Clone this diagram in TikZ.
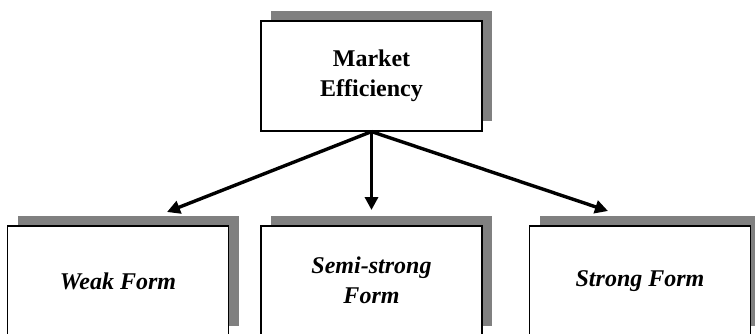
\documentclass[tikz,border=0pt]{standalone}
\usepackage{fontspec}
\setmainfont{Liberation Serif}
\usetikzlibrary{shadows,arrows.meta}
\begin{document}
\begin{tikzpicture}[x=0.5pt,y=-0.5pt,
  box/.style={draw=black, line width=0.6pt, fill=white, minimum width=110.5pt, minimum height=55pt,
    inner sep=0pt, align=center, font=\fontsize{12pt}{15pt}\selectfont\bfseries,
    drop shadow={shadow xshift=5pt, shadow yshift=5pt, fill=black!50, opacity=1}},
  ibox/.style={box, font=\fontsize{12pt}{15pt}\selectfont\bfseries\itshape},
  arr/.style={line width=1.7pt, -{Triangle[length=6.5pt,width=6.5pt]}}]
\useasboundingbox (0,0) rectangle (755,333);
\clip (0,0) rectangle (755,333);
\node[box] (top) at (371.5,76) {Market\\Efficiency};
\node[ibox] (weak) at (118,281) {Weak Form};
\node[ibox] (semi) at (371.5,281) {\rule{0pt}{4pt}\\[-11pt]Semi-strong\\Form};
\node[ibox] (strong) at (640,281) {Strong Form};
\coordinate (tw) at (167,212);
\coordinate (ts) at (371.5,210);
\coordinate (tr) at (608,211);
\draw[arr] (top.south) -- (tw);
\draw[arr] (top.south) -- (ts);
\draw[arr] (top.south) -- (tr);
\end{tikzpicture}
\end{document}
